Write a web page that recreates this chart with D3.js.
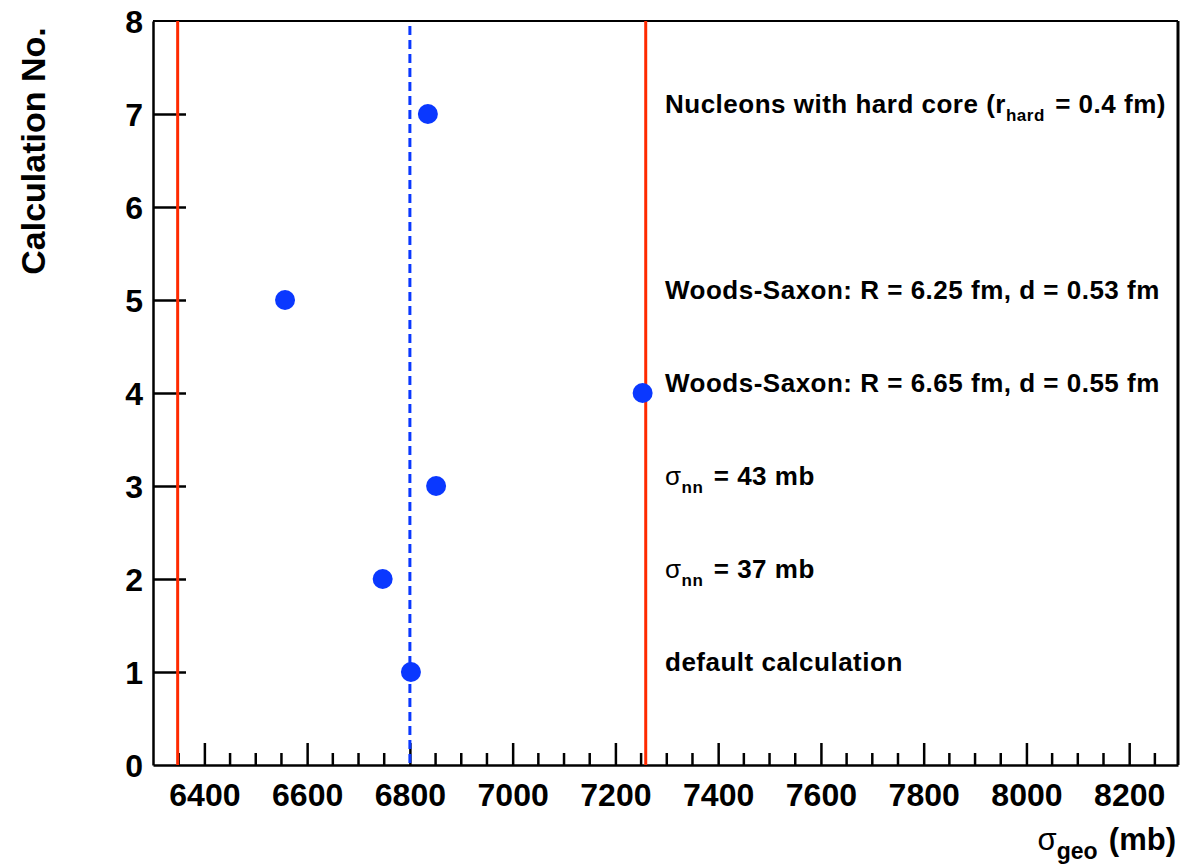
<!DOCTYPE html>
<html>
<head>
<meta charset="utf-8">
<script src="https://cdn.jsdelivr.net/npm/d3@7"></script>
<style>
body { margin: 0; background: #fff; }
text { font-family: "Liberation Sans", Arial, Helvetica, sans-serif; }
</style>
</head>
<body>
<div id="chart"></div>
<script>
// calculation number and resulting geometric cross section (mb)
var calcNo = [1, 2, 3, 4, 5, 7];
var sigmaGeo = [6802, 6747, 6851, 7253, 6557, 6835];

// text for each calculation (ROOT-ish latex: _{} subscripts, #sigma)
var labelCalc = [7, 5, 4, 3, 2, 1];
var labelText = [
	"Nucleons with hard core (r_{hard} = 0.4 fm)",
	"Woods-Saxon: R = 6.25 fm, d = 0.53 fm",
	"Woods-Saxon: R = 6.65 fm, d = 0.55 fm",
	"#sigma_{nn} = 43 mb",
	"#sigma_{nn} = 37 mb",
	"default calculation"
];

// vertical reference lines
var redLines = [6348, 7259];
var blueLine = 6800;

var xMajor = [6400, 6600, 6800, 7000, 7200, 7400, 7600, 7800, 8000, 8200];
var yTicks = [0, 1, 2, 3, 4, 5, 6, 7, 8];

var W = 1182, H = 864;
var margin = { top: 21, right: 4, bottom: 99, left: 153 };
var width = W - margin.left - margin.right;
var height = H - margin.top - margin.bottom;

var svg = d3.select("#chart").append("svg")
	.attr("width", W)
	.attr("height", H);

var g = svg.append("g")
	.attr("transform", "translate(" + margin.left + "," + margin.top + ")");

var x = d3.scaleLinear().domain([6300, 8295]).range([0, width]);
var y = d3.scaleLinear().domain([0, 8]).range([height, 0]);

var red = "#ff2a00", blue = "#0a38ff";

// frame
g.append("line").attr("x1", 0).attr("x2", width).attr("y1", 0).attr("y2", 0)
	.attr("stroke", "#000").attr("stroke-width", 2);
g.append("line").attr("x1", width).attr("x2", width).attr("y1", 0).attr("y2", height)
	.attr("stroke", "#000").attr("stroke-width", 3);

// x axis: ticks point inward
var xMinor = d3.range(6350, 8295, 50).filter(v => xMajor.indexOf(v) < 0);
var xAxis = d3.axisBottom(x).tickValues(xMajor).tickSizeInner(-22).tickSizeOuter(0).tickPadding(0).tickFormat(d3.format("d"));
var gx = g.append("g").attr("transform", "translate(0," + height + ")").call(xAxis);
gx.selectAll(".minor").data(xMinor).enter().append("line")
	.attr("x1", d => x(d)).attr("x2", d => x(d))
	.attr("y1", 0).attr("y2", -12)
	.attr("stroke", "#000").attr("stroke-width", 2.5);
gx.select(".domain").attr("stroke-width", 2.5);
gx.selectAll(".tick line").attr("stroke-width", 2.5);
gx.selectAll(".tick text")
	.attr("y", 41)
	.attr("dy", 0)
	.style("font-size", "32px")
	.style("font-weight", "bold")
	.style("fill", "#000");

// y axis
var yAxis = d3.axisLeft(y).tickValues(yTicks).tickSizeInner(-33).tickSizeOuter(0).tickPadding(10).tickFormat(d3.format("d"));
var gy = g.append("g").call(yAxis);
gy.select(".domain").attr("stroke-width", 2.5);
gy.selectAll(".tick line").attr("stroke-width", 2.5);
gy.selectAll(".tick text")
	.attr("dy", "0.36em")
	.style("font-size", "32px")
	.style("font-weight", "bold")
	.style("fill", "#000");
gy.selectAll(".tick").filter(d => d == 0 || d == 8).select("line").remove();

// reference lines
g.selectAll(".redline").data(redLines).enter().append("line")
	.attr("x1", d => x(d)).attr("x2", d => x(d))
	.attr("y1", y(8)).attr("y2", y(0))
	.attr("stroke", red).attr("stroke-width", 3);

g.append("line")
	.attr("x1", x(blueLine)).attr("x2", x(blueLine))
	.attr("y1", y(8) + 5).attr("y2", y(0))
	.attr("stroke", blue).attr("stroke-width", 3)
	.attr("stroke-dasharray", "9,5");

// points
var pts = calcNo.map((c, i) => ({ c: c, v: sigmaGeo[i] }));
g.selectAll(".pt").data(pts).enter().append("circle")
	.attr("cx", d => x(d.v)).attr("cy", d => y(d.c))
	.attr("r", 10)
	.attr("fill", blue);

// text with subscripts
function addLatex(sel, str, size, subSize) {
	var parts = str.replace(/#sigma/g, "\u03c3").split(/(_\{[^}]*\})/);
	parts.forEach(function(p) {
		if (!p) return;
		if (p[0] == "_") {
			sel.append("tspan").text(p.slice(2, -1))
				.attr("dy", size * 0.3).style("font-size", subSize + "px");
			sel.append("tspan").text("\u200a").attr("dy", -size * 0.3);
		} else {
			var t = sel.append("tspan").text(p);
			if (p.charAt(0) == "\u03c3") {
				t.text("\u03c3").style("font-weight", "normal");
				if (p.length > 1) sel.append("tspan").text(p.slice(1));
			}
		}
	});
}

labelText.forEach(function(s, i) {
	var t = g.append("text")
		.attr("x", 512)
		.attr("y", y(labelCalc[i]) - 1)
		.style("font-size", "26px")
		.style("letter-spacing", "0.5px")
		.style("font-weight", "bold");
	addLatex(t, s, 26, 17);
});

// axis titles
var xt = svg.append("text")
	.attr("x", 1176).attr("y", 850)
	.attr("text-anchor", "end")
	.style("font-size", "31px")
	.style("font-weight", "bold");
addLatex(xt, "#sigma_{geo} (mb)", 31, 23);

svg.append("text")
	.attr("transform", "translate(45,151) rotate(-90)")
	.attr("text-anchor", "middle")
	.style("font-size", "34px")
	.style("font-weight", "bold")
	.text("Calculation No.");
</script>
</body>
</html>
